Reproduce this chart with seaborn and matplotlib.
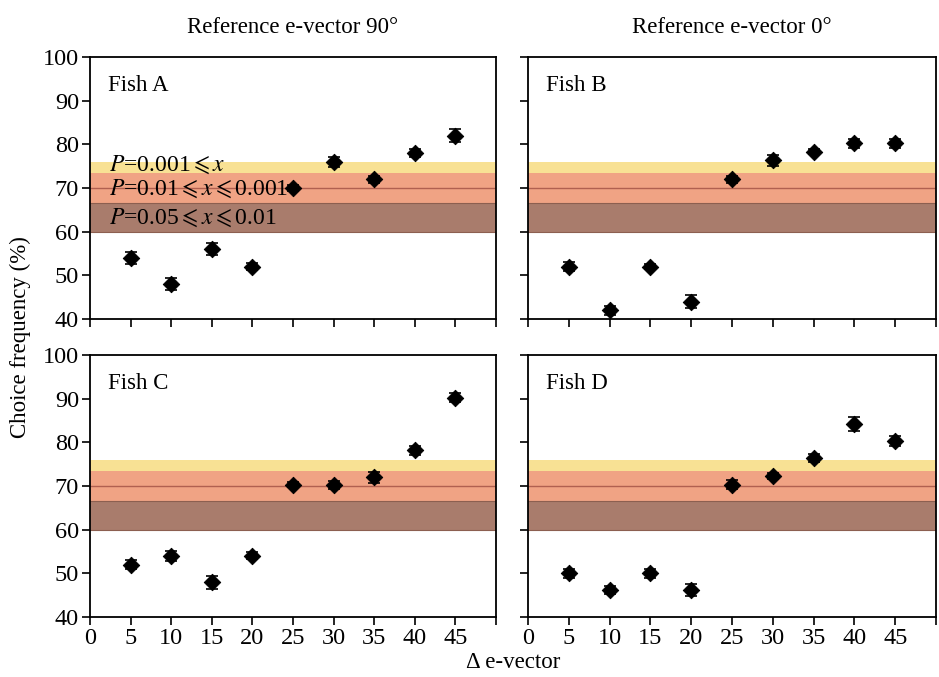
import numpy as np
import pandas as pd
import matplotlib
matplotlib.use("Agg")
import matplotlib.pyplot as plt
import seaborn as sns

sns.set_style("ticks")
plt.rcParams['font.family'] = ['Liberation Serif', 'DejaVu Serif']
plt.rcParams['mathtext.fontset'] = 'stix'
plt.rcParams['text.color'] = 'black'
plt.rcParams['axes.labelcolor'] = 'black'
plt.rcParams['xtick.color'] = 'black'
plt.rcParams['ytick.color'] = 'black'

delta = [5, 10, 15, 20, 25, 30, 35, 40, 45]
fish_a = [54, 48, 56, 52, 70, 76, 72, 78, 82]
fish_a_err = [1.3, 1.3, 1.3, 0.8, 0.8, 1.2, 0.8, 1.0, 1.5]
fish_b = [52, 42, 52, 44, 72, 76.3, 78.3, 80.2, 80.2]
fish_b_err = [1.0, 1.0, 0.6, 1.5, 0.8, 1.2, 0.6, 1.0, 1.0]
fish_c = [52, 54, 48, 54, 70.3, 70.2, 72, 78.2, 90.2]
fish_c_err = [1.0, 1.2, 1.5, 0.8, 0.6, 1.0, 1.2, 1.0, 1.0]
fish_d = [50, 46.2, 50, 46.2, 70.3, 72.3, 76.4, 84.2, 80.3]
fish_d_err = [1.0, 1.0, 1.0, 1.3, 1.0, 0.6, 1.0, 1.5, 1.2]

fish_names = ["Fish A", "Fish B", "Fish C", "Fish D"]
col_titles = ["Reference e-vector 90\u00b0", "Reference e-vector 0\u00b0"]
x_ticks = [0, 5, 10, 15, 20, 25, 30, 35, 40, 45, 50]
x_tick_labels = ["0", "5", "10", "15", "20", "25", "30", "35", "40", "45", ""]
y_ticks = [40, 50, 60, 70, 80, 90, 100]

# significance bands (lower, upper)
band_brown = (60, 66.5)
band_orange = (66.5, 73.5)
band_yellow = (73.5, 76)
chance_line = 70

series = [(fish_a, fish_a_err), (fish_b, fish_b_err), (fish_c, fish_c_err), (fish_d, fish_d_err)]

fig = plt.figure(figsize=(9.39, 6.77), dpi=100)
W, H = 939, 677
def rect(x0, x1, y0, y1):
    return [x0 / W, 1 - y1 / H, (x1 - x0) / W, (y1 - y0) / H]

rects = [rect(90, 496, 57, 319), rect(528, 936, 57, 319),
         rect(90, 496, 355, 617), rect(528, 936, 355, 617)]

fs = 16.5
for i, (r, (vals, errs)) in enumerate(zip(rects, series)):
    ax = fig.add_axes(r)
    ax.axhspan(*band_brown, color='#a97c6c', zorder=0, lw=0)
    ax.axhspan(*band_orange, color='#f0a384', zorder=0, lw=0)
    ax.axhspan(*band_yellow, color='#f8e194', zorder=0, lw=0)
    for yb in [band_brown[0], band_orange[0]]:
        ax.axhline(yb, color='#8c5f50', lw=0.8, zorder=0.5)
    ax.axhline(chance_line, color='#b06050', lw=1.0, zorder=0.5)
    df = pd.DataFrame({"delta": delta, "freq": vals, "err": errs})
    ax.errorbar(df["delta"], df["freq"], yerr=df["err"], fmt='none',
                ecolor='black', elinewidth=1.2, capsize=4, capthick=1.2, zorder=2)
    sns.scatterplot(data=df, x="delta", y="freq", marker='D', s=70,
                    color='black', edgecolor='black', ax=ax, zorder=3, legend=False)
    ax.set_xlim(0, 50)
    ax.set_ylim(40, 100)
    ax.set_xticks(x_ticks)
    ax.set_yticks(y_ticks)
    ax.set_xlabel("")
    ax.set_ylabel("")
    for s in ax.spines.values():
        s.set_visible(True)
        s.set_linewidth(1.3)
        s.set_color('black')
    ax.tick_params(direction='out', length=6, width=1.2, labelsize=17.5, colors='black', pad=2)
    if i in (2, 3):
        ax.set_xticklabels(x_tick_labels)
    else:
        ax.set_xticklabels([])
    if i in (1, 3):
        ax.set_yticklabels([])
    ax.text(0.045, 0.93, fish_names[i], transform=ax.transAxes, fontsize=fs,
            ha='left', va='top', color='black')
    if i < 2:
        ax.set_title(col_titles[i], fontsize=fs, pad=17, color='black')
    if i == 0:
        ax.text(2.3, 75.3, r"$P$=0.001$\leqslant x$", fontsize=17, va='center', ha='left')
        ax.text(2.3, 69.8, r"$P$=0.01$\leqslant x \leqslant$0.001", fontsize=17, va='center', ha='left')
        ax.text(2.3, 63.2, r"$P$=0.05$\leqslant x \leqslant$0.01", fontsize=17, va='center', ha='left')

fig.text(20 / W, 1 - 337 / H, "Choice frequency (%)", rotation=90, fontsize=fs,
         ha='center', va='center')
fig.text(513 / W, 1 - 663 / H, "\u0394 e-vector", fontsize=fs, ha='center', va='center')

fig.savefig("out.png", dpi=100)
